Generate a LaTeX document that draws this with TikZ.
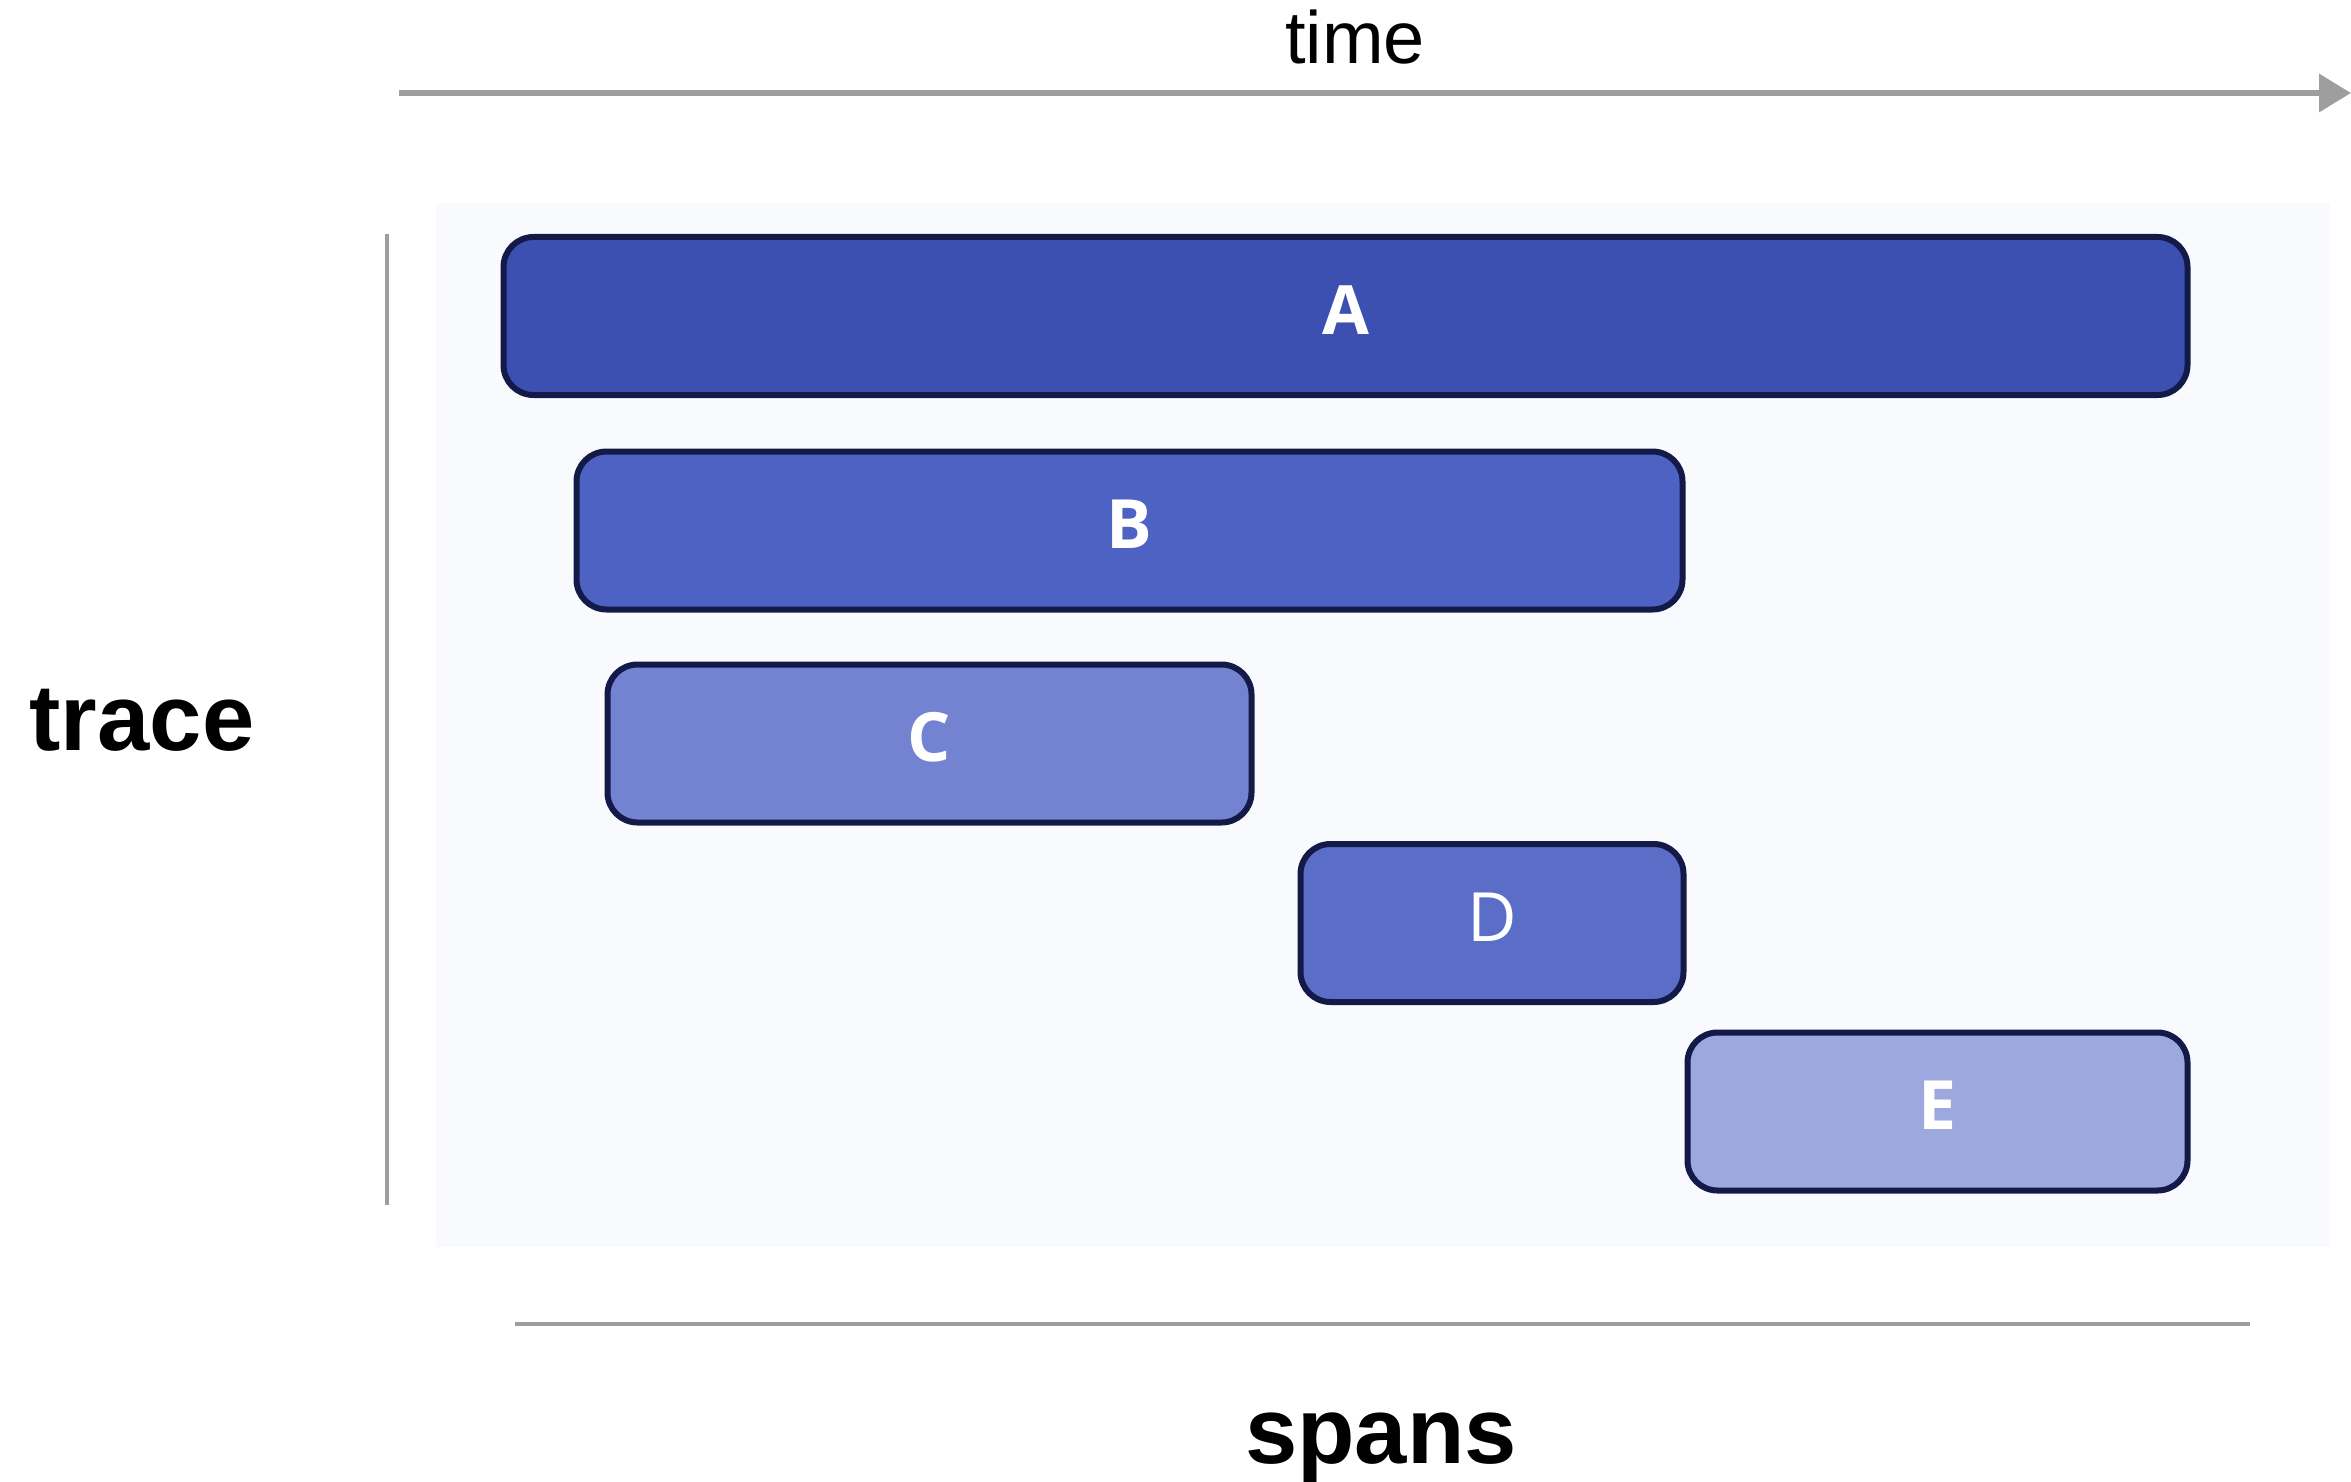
\documentclass[tikz,border=0pt]{standalone}
\usepackage{fontspec}
\setmainfont{Liberation Sans}
\newfontfamily\labelfont{Open Sans}
\usetikzlibrary{arrows.meta}

\definecolor{axisgray}{HTML}{9E9E9E}
\definecolor{panelbg}{HTML}{F9FAFD}
\definecolor{spanedge}{HTML}{141A48}
\definecolor{spanA}{HTML}{3C50B1}
\definecolor{spanB}{HTML}{4D62C3}
\definecolor{spanC}{HTML}{7483D1}
\definecolor{spanD}{HTML}{5A6EC7}
\definecolor{spanE}{HTML}{9CA8DE}

\tikzset{
  spanbox/.style={draw=spanedge, line width=6pt, rounded corners=30pt,
    minimum height=158pt, inner sep=0pt, text=white,
    text height=48pt, text depth=12pt,
    font=\labelfont\bfseries\fontsize{68}{72}\selectfont},
  axisline/.style={draw=axisgray, line width=4pt},
  biglabel/.style={font=\bfseries\fontsize{94}{100}\selectfont, inner sep=0pt}
}

\begin{document}
\begin{tikzpicture}[x=1pt,y=-1pt]
  \useasboundingbox (0,0) rectangle (2351,1482);
  \fill[white] (0,0) rectangle (2351,1482);

  % light panel behind the spans
  \fill[panelbg] (436,203) rectangle (2330,1247);

  % time axis
  \coordinate (tstart) at (399,93);
  \coordinate (tend) at (2351,93);
  \draw[draw=axisgray, line width=6.5pt,
        -{Triangle[length=32pt,width=37pt]}] (tstart) -- (tend);
  \node[font=\fontsize{74}{80}\selectfont, anchor=base, inner sep=0pt]
    (timelbl) at (1355,64) {time};

  % trace bracket
  \coordinate (ttop) at (387,234);
  \coordinate (tbot) at (387,1205);
  \draw[axisline] (ttop) -- (tbot);
  \node[biglabel, anchor=base] (tracelbl) at (142,750) {trace};

  % spans rule
  \coordinate (sleft) at (515,1324);
  \coordinate (sright) at (2250,1324);
  \draw[axisline] (sleft) -- (sright);
  \node[biglabel, anchor=base] (spanslbl) at (1381,1463) {spans};

  % spans
  \node[spanbox, fill=spanA, minimum width=1684pt] (A) at (1345.5,316) {A};
  \node[spanbox, fill=spanB, minimum width=1106pt] (B) at (1129.5,530.5) {B};
  \node[spanbox, fill=spanC, minimum width=644pt]  (C) at (929.5,743.5) {C};
  \node[spanbox, fill=spanD, minimum width=383pt,
        font=\labelfont\fontsize{68}{72}\selectfont] (D) at (1492,923) {D};
  \node[spanbox, fill=spanE, minimum width=500pt]  (E) at (1937.5,1111.5) {E};
\end{tikzpicture}
\end{document}
